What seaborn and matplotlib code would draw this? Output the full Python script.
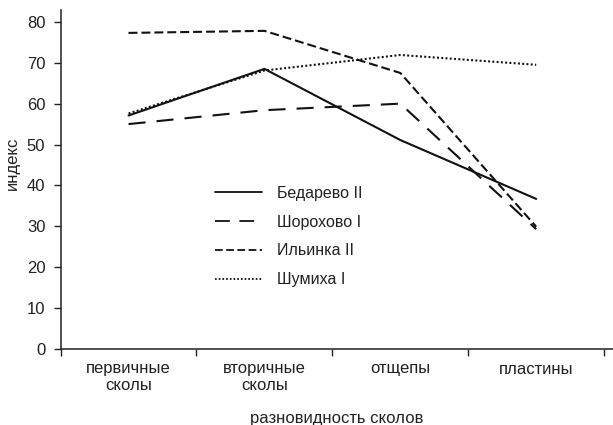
import numpy as np
import pandas as pd
import seaborn as sns
import matplotlib
matplotlib.use("Agg")
import matplotlib.pyplot as plt
from matplotlib.ticker import FixedLocator

categories = ["первичные\nсколы", "вторичные\nсколы", "отщепы", "пластины"]
bedarevo = [57.1, 68.5, 51.1, 36.7]
shorokhovo = [55.0, 58.4, 60.0, 29.3]
ilinka = [77.3, 77.8, 67.5, 29.9]
shumikha = [57.6, 68.1, 71.9, 69.5]
series_names = ["Бедарево II", "Шорохово I", "Ильинка II", "Шумиха I"]

frames = []
for name, vals in zip(series_names, [bedarevo, shorokhovo, ilinka, shumikha]):
    frames.append(pd.DataFrame({"cat": categories, "index": vals, "site": name}))
df = pd.concat(frames, ignore_index=True)

sns.set_theme(style="white")
plt.rcParams["font.family"] = ["Liberation Sans", "DejaVu Sans"]

fig = plt.figure(figsize=(6.13, 4.25), dpi=100)
W, H = 613, 425
left, right, bottom, top = 60.6, 613, 349, 10
ax = fig.add_axes([left / W, 1 - bottom / H, (right - left) / W, (bottom - top) / H])

dashes = {
    "Бедарево II": "",
    "Шорохово I": (8.2, 5.3),
    "Ильинка II": (4.3, 1.9),
    "Шумиха I": (0.95, 1.1),
}
sns.lineplot(data=df, x="cat", y="index", style="site", style_order=series_names,
             dashes=dashes, color="#111111", linewidth=1.5, sort=False, ax=ax)

ax.set_xlim(-0.5, 3.565)
ax.set_ylim(0, 82.9)
ax.set_yticks(np.arange(0, 81, 10))

# category labels centred between boundary tick marks
ax.set_xticks(range(len(categories)))
ax.set_xticklabels(categories, fontsize=12, color="#222222", linespacing=1.15)
ax.xaxis.set_minor_locator(FixedLocator(np.arange(-0.5, 3.6, 1.0)))
ax.tick_params(axis="x", which="major", length=0, pad=9)
ax.tick_params(axis="x", which="minor", length=5, width=1, color="#222222",
               direction="out", bottom=True)
ax.tick_params(axis="y", length=5, width=1, color="#222222", direction="out",
               left=True, labelsize=12, labelcolor="#222222", pad=6)

for s in ["top", "right"]:
    ax.spines[s].set_visible(False)
for s in ["left", "bottom"]:
    ax.spines[s].set_color("#222222")
    ax.spines[s].set_linewidth(1.1)

ax.set_xlabel("разновидность сколов", fontsize=12, color="#222222")
ax.xaxis.label.set_va("center")
ax.xaxis.set_label_coords(0.5, (bottom - 418) / (bottom - top))
ax.set_ylabel("индекс", fontsize=12, color="#222222")
ax.yaxis.label.set_va("center")
ax.yaxis.set_label_coords((12 - left) / (right - left), (bottom - 163) / (bottom - top))

handles, labels = ax.get_legend_handles_labels()
leg = ax.legend(handles, labels, loc="upper left",
                bbox_to_anchor=(215 / W, 1 - 186 / H), bbox_transform=fig.transFigure,
                frameon=False, fontsize=11.5, handlelength=2.95, handletextpad=0.95,
                labelspacing=0.86, borderpad=0, borderaxespad=0)
for t in leg.get_texts():
    t.set_color("#222222")
for h in leg.get_lines():
    h.set_linewidth(1.3)

fig.savefig("out.png", dpi=100, facecolor="white")
